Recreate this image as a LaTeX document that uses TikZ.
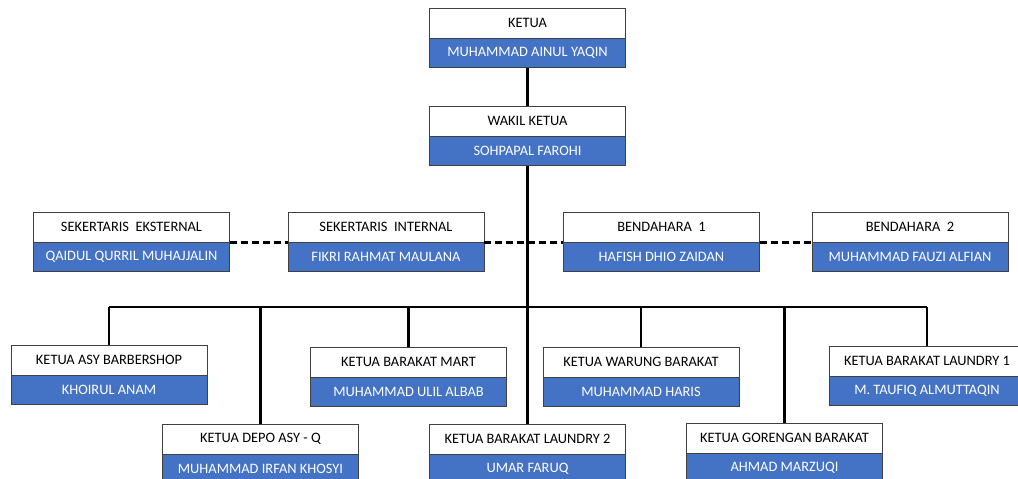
\documentclass[tikz,border=0pt]{standalone}
\usepackage{fontspec}
\setmainfont{Carlito}
\usetikzlibrary{positioning}
\definecolor{officeblue}{HTML}{4472C4}
\definecolor{boxline}{HTML}{404040}

\begin{document}
\begin{tikzpicture}[x=1pt,y=-1pt,
    role/.style={draw=boxline, fill=white, minimum width=196pt, minimum height=30pt,
        inner sep=0pt, anchor=north, font=\fontsize{14.4}{16}\selectfont},
    person/.style={draw=boxline, fill=officeblue, text=white, minimum width=196pt,
        minimum height=29pt, inner sep=0pt, font=\fontsize{14.4}{16}\selectfont},
    link/.style={line width=2.8pt, black},
    helper/.style={link, dashed, dash pattern=on 7pt off 4pt}]
    \useasboundingbox (0,0) rectangle (1018,479);

    % Define the boxes
    \node[role] (ketua) at (527.5,8) {KETUA};
    \node[person, below=0pt of ketua] (ketuaN) {MUHAMMAD AINUL YAQIN};
    \node[role] (wakil) at (527.5,106) {WAKIL KETUA};
    \node[person, below=0pt of wakil] (wakilN) {SOHPAPAL FAROHI};

    \node[role] (sekeks) at (131.5,212) {SEKERTARIS\ \ EKSTERNAL};
    \node[person, below=0pt of sekeks] (sekeksN) {QAIDUL QURRIL MUHAJJALIN};
    \node[role] (sekint) at (386,212) {SEKERTARIS\ \ INTERNAL};
    \node[person, below=0pt of sekint] (sekintN) {FIKRI RAHMAT MAULANA};
    \node[role] (benda) at (661.5,212) {BENDAHARA\ \ 1};
    \node[person, below=0pt of benda] (bendaN) {HAFISH DHIO ZAIDAN};
    \node[role] (bendb) at (910,212) {BENDAHARA\ \ 2};
    \node[person, below=0pt of bendb] (bendbN) {MUHAMMAD FAUZI ALFIAN};

    \node[role] (barber) at (109,345) {KETUA ASY BARBERSHOP};
    \node[person, below=0pt of barber] (barberN) {KHOIRUL ANAM};
    \node[role] (mart) at (408.5,347) {KETUA BARAKAT MART};
    \node[person, below=0pt of mart] (martN) {MUHAMMAD ULIL ALBAB};
    \node[role] (warung) at (641,347) {KETUA WARUNG BARAKAT};
    \node[person, below=0pt of warung] (warungN) {MUHAMMAD HARIS};
    \node[role] (laundrya) at (927,346) {KETUA BARAKAT LAUNDRY 1};
    \node[person, below=0pt of laundrya] (laundryaN) {M. TAUFIQ ALMUTTAQIN};

    \node[role] (depo) at (260.5,424) {KETUA DEPO ASY - Q};
    \node[person, below=0pt of depo] (depoN) {MUHAMMAD IRFAN KHOSYI};
    \node[role] (laundryb) at (527.5,424) {KETUA BARAKAT LAUNDRY 2};
    \node[person, below=0pt of laundryb] (laundrybN) {UMAR FARUQ};
    \node[role] (goreng) at (784.5,423) {KETUA GORENGAN BARAKAT};
    \node[person, below=0pt of goreng] (gorengN) {AHMAD MARZUQI};

    \coordinate (bus) at (0,307);

    % Draw the lines
    \draw[link] (ketuaN.south) -- (wakil.north);
    \draw[link] (wakilN.south) -- (laundryb.north);
    \draw[link] (barber.north |- bus) -- (laundrya.north |- bus);
    \foreach \unit in {barber,depo,mart,warung,goreng,laundrya}
        \draw[link] (\unit.north |- bus) -- (\unit.north);

    % Dashed links between the staff
    \draw[helper] (sekeks.south east) -- (sekint.south west);
    \draw[helper] (sekint.south east) -- (benda.south west);
    \draw[helper] (benda.south east) -- (bendb.south west);
\end{tikzpicture}
\end{document}
